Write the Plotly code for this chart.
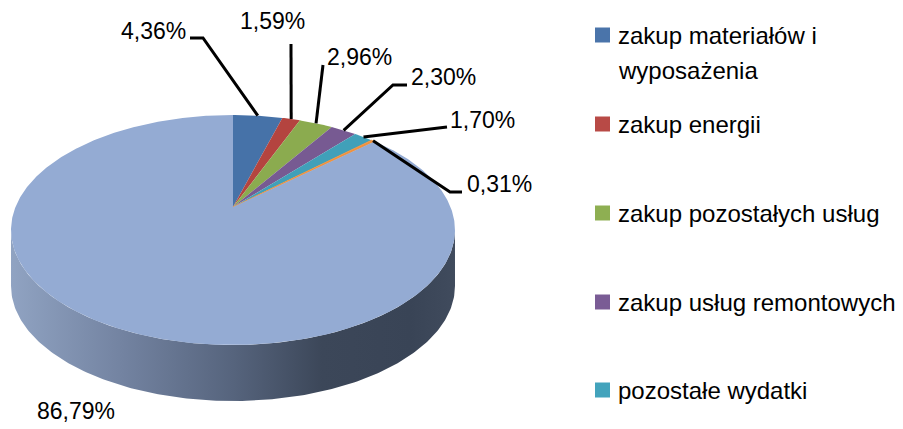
import numpy as np
import plotly.graph_objects as go

# ---- data ----
categories = [
    "zakup materiałów i wyposażenia",
    "zakup energii",
    "zakup pozostałych usług",
    "zakup usług remontowych",
    "pozostałe wydatki",
    "kategoria 6",
    "kategoria 7",
]
values = [4.36, 1.59, 2.96, 2.30, 1.70, 0.31, 86.79]
labels = ["4,36%", "1,59%", "2,96%", "2,30%", "1,70%", "0,31%", "86,79%"]
colors = ["#4672A8", "#B4443F", "#8BAB4F", "#775A92", "#40A0B9", "#F0923E", "#94ABD3"]
legend_colors = ["#4A74AA", "#B84A46", "#8EAF52", "#7A5C95", "#43A3BC"]
legend_count = 5

# ---- page / pixel space (page body has an 8px margin) ----
W, H = 903, 429
OFF = 8
cx, cy = 233, 207
A, B, K = 217.5, 110.4, 0.2
DEPTH = 56


def proj(phi):
    s = 1 + K * np.cos(phi)
    return cx + A * np.sin(phi) / s, cy - B * np.cos(phi) / s


fig = go.Figure()

# side (visible front rim)
phi_r = np.arccos(-K)
phi_l = 2 * np.pi - phi_r
ph = np.linspace(phi_r, phi_l, 200)
sx, sy = proj(ph)
side_x = np.concatenate([sx, sx[::-1]])
side_y = np.concatenate([sy, sy[::-1] + DEPTH])
fig.add_trace(go.Scatter(
    x=side_x, y=side_y, mode="lines", fill="toself",
    line=dict(width=0, color="rgba(0,0,0,0)"),
    fillgradient=dict(type="horizontal", colorscale=[
        [0.0, "#90A3C2"], [0.25, "#7383A1"], [0.5, "#56647D"],
        [0.7, "#3C4759"], [0.9, "#394456"], [1.0, "#404B5D"]]),
    hoverinfo="skip", showlegend=False))

# top face slices
total = sum(values)
cum = np.concatenate([[0], np.cumsum(values)]) / total * 2 * np.pi
mids = []
for i, v in enumerate(values):
    a0, a1 = cum[i], cum[i + 1]
    n = max(4, int(np.degrees(a1 - a0) * 2))
    ph = np.linspace(a0, a1, n)
    px, py = proj(ph)
    xs = np.concatenate([[cx], px, [cx]])
    ys = np.concatenate([[cy], py, [cy]])
    fig.add_trace(go.Scatter(
        x=xs, y=ys, mode="lines", fill="toself", fillcolor=colors[i],
        line=dict(width=0.8 if v < 1 else 0, color=colors[i]),
        name=categories[i], hoverinfo="name", showlegend=False))
    mids.append((a0 + a1) / 2)

# ---- labels & leader lines (label layout) ----
label_layout = [
    dict(pts=[(203, 38), (190, 38)], tx=188, ty=31, xa="right"),
    dict(pts=[(291, 44)], tx=272, ty=21, xa="center"),
    dict(pts=[(323, 65)], tx=325, ty=57, xa="left"),
    dict(pts=[(393, 85), (407, 85)], tx=409, ty=77, xa="left"),
    dict(pts=[(447, 127)], tx=448, ty=120, xa="left"),
    dict(pts=[(450, 192), (462, 192)], tx=465, ty=184, xa="left"),
    dict(pts=None, tx=76, ty=411, xa="center"),
]

FONT = "Liberation Sans, Arial, sans-serif"
for i, lay in enumerate(label_layout):
    if lay["pts"]:
        axp, ayp = proj(mids[i])
        lx = [float(axp)] + [p[0] for p in lay["pts"]]
        ly = [float(ayp)] + [p[1] for p in lay["pts"]]
        fig.add_trace(go.Scatter(x=lx, y=ly, mode="lines",
                                 line=dict(color="black", width=3),
                                 hoverinfo="skip", showlegend=False))
    fig.add_annotation(x=lay["tx"], y=lay["ty"], text=labels[i], showarrow=False,
                       xanchor=lay["xa"], yanchor="middle",
                       font=dict(family=FONT, size=23, color="black"))

# ---- legend (manual, cropped like the reference) ----
legend_y = [35, 124, 213, 302, 390]
LINE_GAP = 35
for i in range(legend_count):
    y = legend_y[i]
    fig.add_shape(type="rect", x0=595, x1=610, y0=y - 7.5, y1=y + 7.5,
                  fillcolor=legend_colors[i], line=dict(width=0))
    lines = categories[i].replace(" i ", " i\n").split("\n")
    for j, ln in enumerate(lines):
        fig.add_annotation(x=616, y=y + j * LINE_GAP, text=ln, showarrow=False,
                           xanchor="left", yanchor="middle", align="left",
                           font=dict(family=FONT, size=24, color="black"))

fig.update_layout(
    width=W - OFF, height=H - OFF, autosize=False,
    margin=dict(l=0, r=0, t=0, b=0),
    paper_bgcolor="white", plot_bgcolor="white",
    xaxis=dict(range=[OFF, W], visible=False, fixedrange=True),
    yaxis=dict(range=[H, OFF], visible=False, fixedrange=True),
    showlegend=False,
)

fig.write_html("out.html")
